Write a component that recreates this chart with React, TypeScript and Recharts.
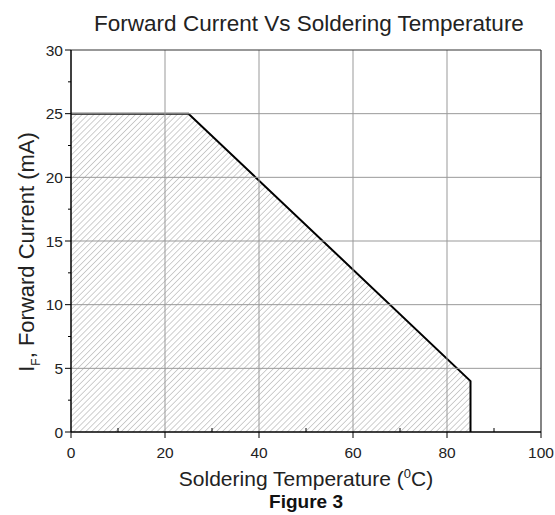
import React from "react";
import {
  ComposedChart,
  Area,
  XAxis,
  YAxis,
  ReferenceLine,
} from "recharts";

// derating curve: temperature (°C) vs max forward current (mA)
const temps = [0, 25, 85, 85];
const currents = [25, 25, 4, 0];

const xMajor = [0, 20, 40, 60, 80, 100];
const xMinor = [10, 30, 50, 70, 90];
const yMajor = [0, 5, 10, 15, 20, 25, 30];
const yMinor = [2.5, 7.5, 12.5, 17.5, 22.5, 27.5];

const data = temps.map((t, i) => ({ t, i: currents[i] }));

const FONT = "'Liberation Sans', Arial, sans-serif";

const YTick = (props: any) => {
  const { x, y, payload } = props;
  const ax = x + 8;
  const major = yMajor.includes(payload.value);
  return (
    <g>
      <line x1={ax} x2={ax - (major ? 6 : 3)} y1={y} y2={y} stroke="#000" strokeWidth={1} />
      {major && (
        <text x={x} y={y} dy={5.5} textAnchor="end" fontSize={15.5} fill="#222" fontFamily={FONT}>
          {payload.value}
        </text>
      )}
    </g>
  );
};

const XTick = (props: any) => {
  const { x, y, payload } = props;
  const ay = y - 8;
  const major = xMajor.includes(payload.value);
  return (
    <g>
      <line x1={x} x2={x} y1={ay} y2={major ? ay + 6 : ay - 4} stroke="#000" strokeWidth={1} />
      {major && (
        <text x={x} y={ay} dy={26} textAnchor="middle" fontSize={15.5} fill="#222" fontFamily={FONT}>
          {payload.value}
        </text>
      )}
    </g>
  );
};

export default function App() {
  return (
    <div style={{ position: "absolute", left: 0, top: 0, background: "#fff" }}>
      <ComposedChart
        width={555}
        height={515}
        data={data}
        margin={{ top: 50, right: 14, bottom: 53, left: 26 }}
      >
        <defs>
          <pattern
            id="hatch"
            patternUnits="userSpaceOnUse"
            width={4.2}
            height={4.2}
            patternTransform="rotate(45)"
          >
            <line x1={0} y1={0} x2={0} y2={4.2} stroke="#b5b5b5" strokeWidth={1.3} />
          </pattern>
        </defs>

        {/* grid */}
        {xMajor.slice(1, -1).map((v) => (
          <ReferenceLine key={"gx" + v} x={v} stroke="#999" strokeWidth={1} />
        ))}
        {yMajor.slice(1, -1).map((v) => (
          <ReferenceLine key={"gy" + v} y={v} stroke="#999" strokeWidth={1} />
        ))}

        <XAxis
          dataKey="t"
          type="number"
          domain={[0, 100]}
          ticks={[...xMajor, ...xMinor]}
          interval={0}
          tickLine={false}
          tickSize={6}
          tickMargin={2}
          tick={<XTick />}
          height={30}
          axisLine={{ stroke: "#000", strokeWidth: 1.5 }}
          allowDataOverflow
        />
        <YAxis
          dataKey="i"
          type="number"
          domain={[0, 30]}
          ticks={[...yMajor, ...yMinor]}
          interval={0}
          tickLine={false}
          tickSize={6}
          tickMargin={2}
          tick={<YTick />}
          width={45}
          axisLine={{ stroke: "#000", strokeWidth: 1.5 }}
        />

        <Area
          type="linear"
          dataKey="i"
          stroke="#000"
          strokeWidth={2}
          fill="url(#hatch)"
          fillOpacity={1}
          dot={false}
          activeDot={false}
          isAnimationActive={false}
        />

        {/* frame */}
        <ReferenceLine y={30} stroke="#333" strokeWidth={1.2} />
        <ReferenceLine x={100} stroke="#333" strokeWidth={1.2} />

        <text x={309} y={31} textAnchor="middle" fontSize={22.5} fill="#222" fontFamily={FONT}>
          Forward Current Vs Soldering Temperature
        </text>
        <text x={306} y={486} textAnchor="middle" fontSize={21} fill="#222" fontFamily={FONT}>
          Soldering Temperature (<tspan dy={-8} fontSize={13}>0</tspan>
          <tspan dy={8}>C)</tspan>
        </text>
        <text x={306} y={508} textAnchor="middle" fontSize={19} fontWeight="bold" fill="#111" fontFamily={FONT}>
          Figure 3
        </text>
        <text
          x={34}
          y={252}
          textAnchor="middle"
          fontSize={22}
          fill="#222"
          fontFamily={FONT}
          transform="rotate(-90 34 252)"
        >
          I<tspan dy={6} fontSize={12}>F</tspan>
          <tspan dy={-6}>, Forward Current (mA)</tspan>
        </text>
      </ComposedChart>
    </div>
  );
}
